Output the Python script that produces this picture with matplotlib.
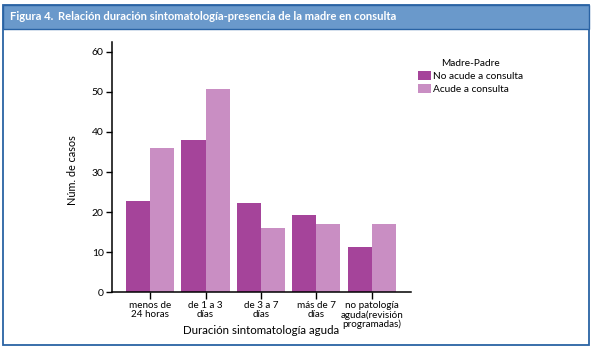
import matplotlib.pyplot as plt
import matplotlib.patches as patches
import numpy as np

categories = ['menos de\n24 horas', 'de 1 a 3\ndías', 'de 3 a 7\ndías', 'más de 7\ndías',
              'no patología\naguda(revisión\nprogramadas)']
no_acude = [22.8, 38, 22.2, 19.2, 11.2]
acude = [36, 50.8, 16, 17, 17]
series_names = ['No acude a consulta', 'Acude a consulta']

W, H = 595, 354
fig = plt.figure(figsize=(W / 100, H / 100), dpi=100)
plt.rcParams['font.family'] = ['Lato', 'DejaVu Sans']

dark = '#A5449A'
light = '#C98EC3'
blue = '#6A99CB'
border = '#2A63A4'

# frame and header band
fig.patches.append(patches.Rectangle((3 / W, 1 - 345 / H), 586 / W, 340 / H,
                                     transform=fig.transFigure, fill=False,
                                     edgecolor=border, linewidth=1.3))
fig.patches.append(patches.Rectangle((3 / W, 1 - 29 / H), 586 / W, 24 / H,
                                     transform=fig.transFigure, facecolor=blue,
                                     edgecolor=border, linewidth=1.0))
fig.text(10 / W, 1 - 17 / H, 'Figura 4.', color='white', fontsize=8.1,
         fontweight='bold', va='center', ha='left')
fig.text(58 / W, 1 - 17 / H, 'Relación duración sintomatología-presencia de la madre en consulta',
         color='white', fontsize=8.1, fontweight='bold', va='center', ha='left')

ax = fig.add_axes([112 / W, 1 - 292.3 / H, (411 - 112) / W, (292.3 - 41.7) / H])
x = np.arange(len(categories))
bw = 0.435
ax.bar(x - bw / 2, no_acude, bw, color=dark, label=series_names[0])
ax.bar(x + bw / 2, acude, bw, color=light, label=series_names[1])

ax.set_xlim(-0.69, 4.71)
ax.set_ylim(0, 62.5)
ax.set_yticks(range(0, 61, 10))
ax.set_xticks(x)
ax.set_xticklabels(categories, fontsize=7.1, linespacing=1.05)
ax.tick_params(axis='y', labelsize=7.5, length=4, width=1, pad=2)
ax.tick_params(axis='x', length=5, width=1, pad=1)
for s in ['top', 'right']:
    ax.spines[s].set_visible(False)
for s in ['left', 'bottom']:
    ax.spines[s].set_linewidth(1.1)

fig.text(72 / W, 1 - 170 / H, 'Núm. de casos', rotation=90, fontsize=7.8,
         ha='center', va='center')
fig.text(261 / W, 1 - 330 / H, 'Duración sintomatología aguda', fontsize=8.3,
         ha='center', va='center')

leg = ax.legend(loc='upper left', bbox_to_anchor=(418 / W, 1 - 59 / H),
                bbox_transform=fig.transFigure, title='Madre-Padre', frameon=False,
                fontsize=7.3, title_fontsize=7.3, handlelength=1.3, handleheight=0.95,
                handletextpad=0.2, labelspacing=0.3, borderpad=0, borderaxespad=0)

fig.savefig('out.png', dpi=100)
